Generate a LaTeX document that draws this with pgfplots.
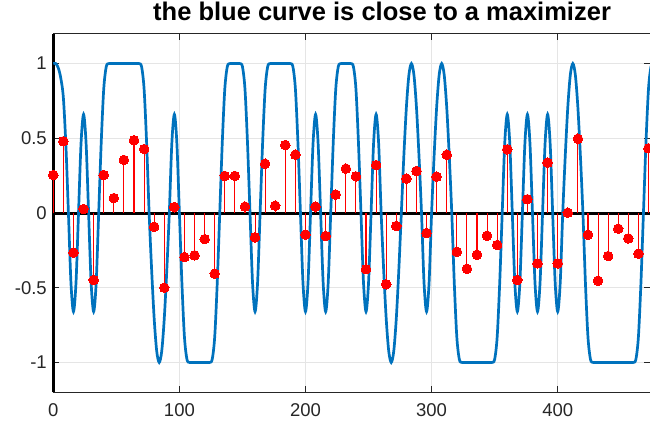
\documentclass[border=0pt]{standalone}
\usepackage{pgfplots}
\pgfplotsset{compat=1.18}
\usepackage{fontspec}
\setmainfont{Liberation Sans}
\definecolor{mblue}{HTML}{0072BD}
\definecolor{axgray}{HTML}{262626}
\begin{document}
\begin{tikzpicture}
\useasboundingbox (-53.3bp,-29.7bp) rectangle (596.7bp,392.3bp);
\begin{axis}[
  scale only axis, width=596.7bp, height=358.6bp,
  xmin=0, xmax=473.2, ymin=-1.2, ymax=1.2,
  clip=false,
  axis line style={draw=axgray, line width=0.7pt},
  xtick={0,100,200,300,400}, xticklabels={0,100,200,300,400},
  ytick={-1,-0.5,0,0.5,1}, yticklabels={-1,-0.5,0,0.5,1},
  tick align=inside, major tick length=6bp,
  tick style={draw=axgray, line width=0.7pt},
  grid=major, major grid style={draw=black!10, line width=0.7pt},
  tick label style={font=\fontsize{18.5bp}{20bp}\selectfont, text=axgray},
  xticklabel style={yshift=-7.5bp},
  yticklabel style={xshift=-3bp},
  title={\textbf{the blue curve is close to a maximizer}},
  title style={font=\fontsize{25.5bp}{27bp}\selectfont, at={(0.551,1)}, anchor=base, yshift=7.7bp},
]
\addplot[black, line width=3bp] coordinates {(0,0) (473.2,0)};
\addplot[black, line width=3.5bp] coordinates {(0,-1.2) (0,1.2)};
\addplot[mblue, line width=2.7bp, smooth, tension=0.5] coordinates {
(0,1) (2,1) (4,0.97) (6,0.9) (8,0.77) (10,0.45) (12,0)
(14,-0.467) (16,-0.66) (18,-0.467) (20,0)
(22,0.467) (24,0.66) (26,0.467) (28,0)
(30,-0.467) (32,-0.66) (34,-0.467) (36,0)
(38,0.47) (40,0.83) (42,0.98) (44,1) (46,1) (48,1) (50,1) (52,1) (54,1) (56,1) (58,1) (60,1) (62,1) (64,1) (66,1) (68,1) (70,0.98) (72,0.83) (74,0.47) (76,0)
(78,-0.383) (80,-0.707) (82,-0.924) (84,-1) (86,-0.924) (88,-0.707) (90,-0.383) (92,0)
(94,0.467) (96,0.66) (98,0.467) (100,0)
(102,-0.47) (104,-0.83) (106,-0.98) (108,-1) (110,-1) (112,-1) (114,-1) (116,-1) (118,-1) (120,-1) (122,-1) (124,-1) (126,-0.98) (128,-0.83) (130,-0.47) (132,0)
(134,0.47) (136,0.83) (138,0.98) (140,1) (142,1) (144,1) (146,1) (148,1) (150,0.98) (152,0.83) (154,0.47) (156,0)
(158,-0.467) (160,-0.66) (162,-0.467) (164,0)
(166,0.47) (168,0.83) (170,0.98) (172,1) (174,1) (176,1) (178,1) (180,1) (182,1) (184,1) (186,1) (188,1) (190,0.98) (192,0.83) (194,0.47) (196,0)
(198,-0.467) (200,-0.66) (202,-0.467) (204,0)
(206,0.467) (208,0.66) (210,0.467) (212,0)
(214,-0.467) (216,-0.66) (218,-0.467) (220,0)
(222,0.47) (224,0.83) (226,0.98) (228,1) (230,1) (232,1) (234,1) (236,1) (238,0.98) (240,0.83) (242,0.47) (244,0)
(246,-0.467) (248,-0.66) (250,-0.467) (252,0)
(254,0.467) (256,0.66) (258,0.467) (260,0)
(262,-0.383) (264,-0.707) (266,-0.924) (268,-1) (270,-0.924) (272,-0.707) (274,-0.383) (276,0)
(278,0.383) (280,0.707) (282,0.924) (284,1) (286,0.924) (288,0.707) (290,0.383) (292,0)
(294,-0.467) (296,-0.66) (298,-0.467) (300,0)
(302,0.383) (304,0.707) (306,0.924) (308,1) (310,0.924) (312,0.707) (314,0.383) (316,0)
(318,-0.47) (320,-0.83) (322,-0.98) (324,-1) (326,-1) (328,-1) (330,-1) (332,-1) (334,-1) (336,-1) (338,-1) (340,-1) (342,-1) (344,-1) (346,-1) (348,-1) (350,-0.98) (352,-0.83) (354,-0.47) (356,0)
(358,0.467) (360,0.66) (362,0.467) (364,0)
(366,-0.467) (368,-0.66) (370,-0.467) (372,0)
(374,0.467) (376,0.66) (378,0.467) (380,0)
(382,-0.467) (384,-0.66) (386,-0.467) (388,0)
(390,0.467) (392,0.66) (394,0.467) (396,0)
(398,-0.467) (400,-0.66) (402,-0.467) (404,0)
(406,0.383) (408,0.707) (410,0.924) (412,1) (414,0.924) (416,0.707) (418,0.383) (420,0)
(422,-0.47) (424,-0.83) (426,-0.98) (428,-1) (430,-1) (432,-1) (434,-1) (436,-1) (438,-1) (440,-1) (442,-1) (444,-1) (446,-1) (448,-1) (450,-1) (452,-1) (454,-1) (456,-1) (458,-1) (460,-1) (462,-0.98) (464,-0.83) (466,-0.47) (468,0)
(470,0.47) (472,0.83) (474,0.98) (476,1)
};
\addplot[red, line width=1.1bp, ycomb, mark=*, mark size=4.8bp, mark options={fill=red, draw=red, line width=0pt}] coordinates {
(0,0.254) (8,0.48) (16,-0.265) (24,0.027) (32,-0.448) (40,0.254) (48,0.10) (56,0.355) (64,0.487) (72,0.428)
(80,-0.092) (88,-0.50) (96,0.04) (104,-0.295) (112,-0.283) (120,-0.175) (128,-0.406) (136,0.248) (144,0.248) (152,0.043)
(160,-0.163) (168,0.33) (176,0.049) (184,0.455) (192,0.39) (200,-0.145) (208,0.043) (216,-0.154) (224,0.123) (232,0.297)
(240,0.245) (248,-0.376) (256,0.321) (264,-0.477) (272,-0.087) (280,0.23) (288,0.281) (296,-0.134) (304,0.243) (312,0.39)
(320,-0.259) (328,-0.373) (336,-0.279) (344,-0.152) (352,-0.214) (360,0.426) (368,-0.448) (376,0.092) (384,-0.337) (392,0.337)
(400,-0.337) (408,0.002) (416,0.497) (424,-0.145) (432,-0.453) (440,-0.288) (448,-0.105) (456,-0.17) (464,-0.272) (472,0.433)
};
\end{axis}
\end{tikzpicture}
\end{document}
